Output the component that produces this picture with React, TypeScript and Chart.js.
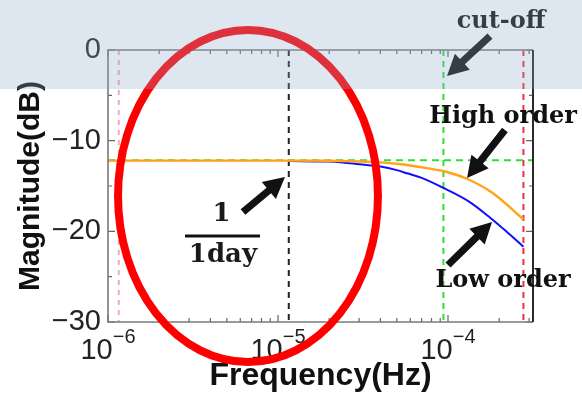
import React, { useEffect, useRef } from "react";
import { Chart, registerables } from "chart.js";

Chart.register(...registerables);

// ---------------- data ----------------
const freqRange = [1e-6, 3.1623e-4];
const dbRange = [-30, 0];
const yTickStep = 10;
const xTickExponents = [-6, -5, -4];

// High order (orange) response
const highOrderFreq = [1e-6, 3e-6, 1e-5, 2e-5, 3e-5, 4e-5, 5e-5, 6.8e-5, 9.6e-5, 1.29e-4, 1.84e-4, 2.778e-4];
const highOrderDb = [-12.2, -12.2, -12.2, -12.22, -12.3, -12.4, -12.55, -12.9, -13.4, -14.2, -15.8, -18.7];

// Low order (blue) response
const lowOrderFreq = [1.157e-5, 2e-5, 2.4e-5, 3e-5, 4e-5, 5e-5, 5.74e-5, 7e-5, 9.6e-5, 1.35e-4, 1.77e-4, 2.2e-4, 2.778e-4];
const lowOrderDb = [-12.25, -12.3, -12.4, -12.6, -12.85, -13.25, -13.6, -14.1, -15.3, -16.8, -18.5, -20.0, -21.7];

// reference lines
const tenDayFreq = 1.157e-6;
const oneDayFreq = 1.157e-5;
const cutoffFreq = 9.4e-5;
const oneHourFreq = 2.778e-4;
const cutoffDb = -12.15;

// annotation anchors: [log10(freq), dB]
const ellipseBox = { l: -5.941, r: -4.412, t: 2.21, b: -34.41 };
const arrowCutoff = [-3.753, 1.54, -4.006, -2.87];
const arrowHigh = [-3.665, -8.82, -3.888, -14.12];
const arrowLow = [-4.0, -23.71, -3.741, -18.97];
const arrowDay = [-5.206, -17.87, -4.959, -14.01];
const textCutoff = [-3.688, 2.43];
const textHigh = [-3.676, -8.05];
const textLow = [-3.676, -26.14];
const textNum = [-5.332, -18.86];
const fracBar = [-5.547, -5.106, -20.51];
const textDen = [-5.324, -23.38];

// ---------------- styles ----------------
const SANS = "'Liberation Sans', Arial, sans-serif";
const SERIF = "'DejaVu Serif', serif";

const toXY = (fs: number[], ds: number[]) => fs.map((f, i) => ({ x: f, y: ds[i] }));
const vline = (f: number) => [
  { x: f, y: dbRange[1] },
  { x: f, y: dbRange[0] },
];

const minus = (s: string) => s.replace("-", "\u2212");

const decorPlugin = {
  id: "decor",
  afterDatasetsDraw(chart: any) {
    const { ctx, chartArea } = chart;
    const xs = chart.scales.x;
    const ys = chart.scales.y;
    const { left, right, top, bottom } = chartArea;
    ctx.save();
    // ticks inward
    ctx.strokeStyle = "#666";
    ctx.lineWidth = 1.2;
    ctx.beginPath();
    for (const e of [-7, ...xTickExponents]) {
      for (let m = 1; m < 10; m++) {
        const v = m * Math.pow(10, e);
        if (v < freqRange[0] * 0.999 || v > freqRange[1]) continue;
        const x = xs.getPixelForValue(v);
        const len = m === 1 ? 7 : 4;
        ctx.moveTo(x, bottom);
        ctx.lineTo(x, bottom - len);
        ctx.moveTo(x, top);
        ctx.lineTo(x, top + len);
      }
    }
    for (let v = dbRange[0]; v <= dbRange[1]; v += yTickStep / 2) {
      const y = ys.getPixelForValue(v);
      const len = v % yTickStep === 0 ? 7 : 4;
      ctx.moveTo(left, y);
      ctx.lineTo(left + len, y);
      ctx.moveTo(right, y);
      ctx.lineTo(right - len, y);
    }
    ctx.stroke();
    // frame
    ctx.strokeStyle = "#7a7a7a";
    ctx.lineWidth = 1.6;
    ctx.beginPath();
    ctx.moveTo(right, top);
    ctx.lineTo(left, top);
    ctx.lineTo(left, bottom);
    ctx.lineTo(right, bottom);
    ctx.stroke();
    ctx.strokeStyle = "#2a2a2a";
    ctx.lineWidth = 2;
    ctx.beginPath();
    ctx.moveTo(right, top);
    ctx.lineTo(right, bottom);
    ctx.stroke();

    // x tick labels: 10^e
    ctx.fillStyle = "#222";
    ctx.textBaseline = "alphabetic";
    ctx.textAlign = "left";
    for (const e of xTickExponents) {
      const x = xs.getPixelForValue(Math.pow(10, e));
      ctx.font = `29px ${SANS}`;
      const bw = ctx.measureText("10").width;
      const sup = minus(String(e));
      ctx.font = `20px ${SANS}`;
      const sw = ctx.measureText(sup).width;
      const x0 = x - (bw + sw) / 2;
      ctx.font = `29px ${SANS}`;
      ctx.fillText("10", x0, bottom + 37);
      ctx.font = `20px ${SANS}`;
      ctx.fillText(sup, x0 + bw, bottom + 21);
    }
    ctx.restore();
  },
  afterDraw(chart: any) {
    const { ctx } = chart;
    const xs = chart.scales.x;
    const ys = chart.scales.y;
    const P = (lf: number, db: number) => [xs.getPixelForValue(Math.pow(10, lf)), ys.getPixelForValue(db)];
    ctx.save();

    // texts
    ctx.fillStyle = "#111";
    ctx.textAlign = "center";
    ctx.textBaseline = "alphabetic";
    ctx.font = `bold 24px ${SERIF}`;
    let p = P(textCutoff[0], textCutoff[1]);
    ctx.fillText("cut-off", p[0], p[1]);
    ctx.font = `bold 24px ${SERIF}`;
    p = P(textHigh[0], textHigh[1]);
    ctx.fillText("High order", p[0], p[1]);
    p = P(textLow[0], textLow[1]);
    ctx.fillText("Low order", p[0], p[1]);
    ctx.font = `bold 26px ${SERIF}`;
    ctx.fillStyle = "#1c1a18";
    p = P(textNum[0], textNum[1]);
    ctx.fillText("1", p[0], p[1]);
    p = P(textDen[0], textDen[1]);
    ctx.fillText("1day", p[0], p[1]);
    const b0 = P(fracBar[0], fracBar[2]);
    const b1 = P(fracBar[1], fracBar[2]);
    ctx.strokeStyle = "#111";
    ctx.lineWidth = 3;
    ctx.beginPath();
    ctx.moveTo(b0[0], b0[1]);
    ctx.lineTo(b1[0], b1[1]);
    ctx.stroke();

    // arrows
    const arrow = (a: number[]) => {
      const [x1, y1] = P(a[0], a[1]);
      const [x2, y2] = P(a[2], a[3]);
      const ang = Math.atan2(y2 - y1, x2 - x1);
      const len = Math.hypot(x2 - x1, y2 - y1);
      const hl = 21, hw = 11, sw = 3.6;
      ctx.save();
      ctx.translate(x1, y1);
      ctx.rotate(ang);
      ctx.beginPath();
      ctx.moveTo(0, -sw);
      ctx.lineTo(len - hl, -sw);
      ctx.lineTo(len - hl, -hw);
      ctx.lineTo(len, 0);
      ctx.lineTo(len - hl, hw);
      ctx.lineTo(len - hl, sw);
      ctx.lineTo(0, sw);
      ctx.closePath();
      ctx.fillStyle = "#111";
      ctx.fill();
      ctx.restore();
    };
    [arrowCutoff, arrowHigh, arrowLow, arrowDay].forEach(arrow);

    // red ellipse
    const el = P(ellipseBox.l, ellipseBox.t);
    const er = P(ellipseBox.r, ellipseBox.b);
    ctx.strokeStyle = "#ff0000";
    ctx.lineWidth = 8;
    ctx.beginPath();
    ctx.ellipse((el[0] + er[0]) / 2, (el[1] + er[1]) / 2, Math.abs(er[0] - el[0]) / 2, Math.abs(er[1] - el[1]) / 2, 0, 0, Math.PI * 2);
    ctx.stroke();
    ctx.restore();
  },
};

export default function App() {
  const ref = useRef<HTMLCanvasElement>(null);
  useEffect(() => {
    const dashed = (data: any[], color: string, order: number, width = 2, dash = [6, 5]) => ({
      data,
      borderColor: color,
      borderWidth: width,
      borderDash: dash,
      pointRadius: 0,
      fill: false,
      order,
    });
    const chart = new Chart(ref.current!, {
      type: "line",
      data: {
        datasets: [
          {
            label: "High order",
            data: toXY(highOrderFreq, highOrderDb),
            borderColor: "#ffa31a",
            borderWidth: 2.4,
            pointRadius: 0,
            cubicInterpolationMode: "monotone",
            fill: false,
            order: 0,
          },
          {
            label: "Low order",
            data: toXY(lowOrderFreq, lowOrderDb),
            borderColor: "#1010ff",
            borderWidth: 2,
            pointRadius: 0,
            cubicInterpolationMode: "monotone",
            fill: false,
            order: 1,
          },
          dashed([{ x: freqRange[0], y: cutoffDb }, { x: freqRange[1], y: cutoffDb }], "#30e030", 2, 2, [7, 5]),
          dashed(vline(tenDayFreq), "#f6a8b2", 3, 2, [5, 5]),
          dashed(vline(oneDayFreq), "#222222", 3, 2, [6, 5]),
          dashed(vline(cutoffFreq), "#30e030", 3, 2, [6, 5]),
          dashed(vline(oneHourFreq), "#ec3040", 3, 2, [6, 5]),
        ] as any,
      },
      options: {
        animation: false,
        responsive: true,
        maintainAspectRatio: false,
        events: [],
        layout: { padding: { left: 0, right: 49, top: 50, bottom: 0 } },
        plugins: { legend: { display: false }, tooltip: { enabled: false } },
        scales: {
          x: {
            type: "logarithmic",
            min: freqRange[0],
            max: freqRange[1],
            afterFit: (s: any) => {
              s.height = 73;
            },
            ticks: { display: false },
            grid: { display: false, drawTicks: false },
            border: { display: false },
            title: {
              display: true,
              text: "Frequency(Hz)",
              color: "#111",
              font: { family: SANS, size: 32, weight: "bold" },
              padding: 0,
            },
          },
          y: {
            min: dbRange[0],
            max: dbRange[1],
            afterFit: (s: any) => {
              s.width = 108;
            },
            ticks: {
              stepSize: yTickStep,
              padding: 7,
              color: "#222",
              font: { family: SANS, size: 29 },
              callback: (v: any) => minus(String(v)),
            },
            grid: { display: false, drawTicks: false },
            border: { display: false },
            title: {
              display: true,
              text: "Magnitude(dB)",
              color: "#111",
              font: { family: SANS, size: 30, weight: "bold" },
              padding: { top: 13, bottom: 0 },
            },
          },
        },
      } as any,
      plugins: [decorPlugin],
    });
    return () => chart.destroy();
  }, []);
  return (
    <div style={{ position: "fixed", left: 0, top: 0, width: 582, height: 395, background: "#fff" }}>
      <div style={{ position: "absolute", left: 0, top: 0, width: 582, height: 395 }}>
        <canvas ref={ref} />
      </div>
      <div
        style={{
          position: "absolute",
          left: 0,
          top: 0,
          width: 582,
          height: 89,
          background: "rgba(140,168,203,0.29)",
          pointerEvents: "none",
        }}
      />
    </div>
  );
}
